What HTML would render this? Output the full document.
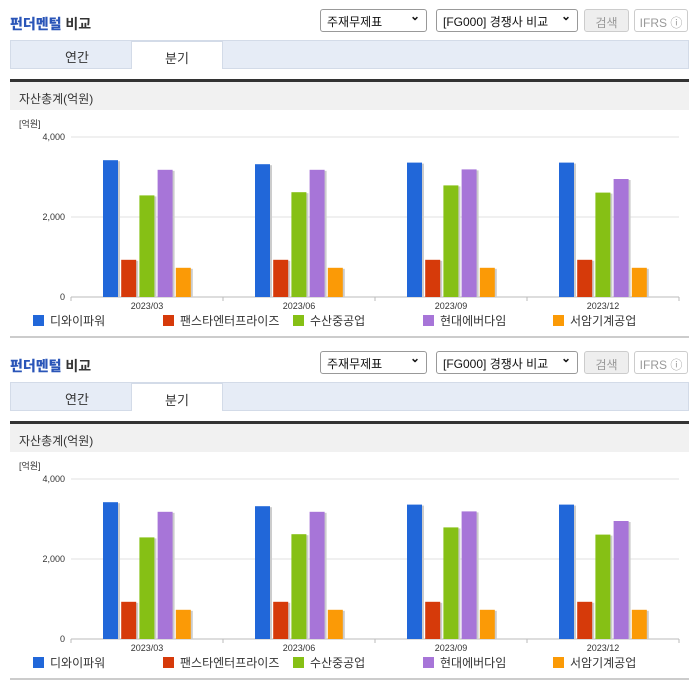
<!DOCTYPE html>
<html><head><meta charset="utf-8"><style>
*{box-sizing:border-box}
body{margin:0;width:696px;height:684px;background:#fff;font-family:"Liberation Sans","Noto Sans CJK KR",sans-serif;overflow:hidden;position:relative}
.panel{position:absolute;left:0;width:696px;height:342px}
.title{position:absolute;left:10px;top:14px;font-size:14px;color:#333;font-weight:bold}
.title b{color:#2a55b8}
.sel{position:absolute;top:9px;height:23px;border:1px solid #999;border-radius:3px;font-size:12px;padding:3px 6px;color:#111;background:#fff}
.sel:after{content:"⌄";position:absolute;right:6px;top:-1px;font-weight:bold}
.btn{position:absolute;top:9px;height:23px;border:1px solid #ccc;border-radius:3px;font-size:12px;color:#999;text-align:center;padding-top:4px}
.tabs{position:absolute;left:10px;top:40px;width:679px;height:29px;background:#e6ecf6;border:1px solid #d3dbe8}
.tab{position:absolute;top:0;height:28px;width:92px;font-size:13px;text-align:center;padding-top:6px;color:#333}
.hdr{position:absolute;left:10px;top:79px;width:679px;height:31px;background:#f1f1f1;border-top:3px solid #333;font-size:12px;color:#333;padding:8px 0 0 9px}
.bot{position:absolute;left:10px;top:336px;width:679px;height:2px;background:#ccc}
</style></head><body>
<script>
const categories=["2023/03","2023/06","2023/09","2023/12"];
const seriesNames=["디와이파워","팬스타엔터프라이즈","수산중공업","현대에버다임","서암기계공업"];
const colors=["#2167d9","#d63a0a","#86c015","#a775d8","#fb9a06"];
const s1=[3420,3320,3360,3360];
const s2=[930,930,930,930];
const s3=[2540,2620,2790,2610];
const s4=[3180,3180,3190,2950];
const s5=[730,730,730,730];
const series=[s1,s2,s3,s4,s5];
const yTicks=[0,2000,4000];
const yLabels=["0","2,000","4,000"];
function panel(top){
 const p=document.createElement('div');p.className='panel';p.style.top=top+'px';
 
 
 const y0=297,ppu=160/4000,xL=71,xR=679,cw=(xR-xL)/4;
 const ys=v=>y0-v*ppu, xc=i=>xL+cw*(i+0.5);
 let svg='<svg width="696" height="342" style="position:absolute;left:0;top:0">';
 svg+='<text x="19" y="127" font-size="9" fill="#333">[억원]</text>';
 yTicks.forEach((t,i)=>{svg+=`<line x1="${xL}" x2="${xR}" y1="${ys(t)}" y2="${ys(t)}" stroke="${t?'#e0e0e0':'#bbb'}"/><text x="${xL-6}" y="${ys(t)+3}" font-size="9" fill="#333" text-anchor="end">${yLabels[i]}</text>`;});
 for(let i=0;i<=4;i++)svg+=`<line x1="${xL+cw*i}" x2="${xL+cw*i}" y1="${y0}" y2="${y0+4}" stroke="#bbb"/>`;
 categories.forEach((c,i)=>{
  svg+=`<text x="${xc(i)}" y="${y0+12}" font-size="9" fill="#333" text-anchor="middle">${c}</text>`;
  series.forEach((s,j)=>{const x=xc(i)-44+j*18.2,y=ys(s[i]);
   svg+=`<rect x="${x+2}" y="${y+1}" width="15" height="${y0-y-1}" fill="#ccc"/><rect x="${x}" y="${y}" width="15" height="${y0-y}" fill="${colors[j]}"/>`;});
 });
 const lx=[33,163,293,423,553];
 seriesNames.forEach((n,j)=>{svg+=`<rect x="${lx[j]}" y="315" width="11" height="11" fill="${colors[j]}"/><text x="${lx[j]+17}" y="325" font-size="12" fill="#333">${n}</text>`;});
 svg+='</svg>';
 p.innerHTML=`<div class="title"><b>펀더멘털</b> 비교</div>
<div class="sel" style="left:320px;width:107px">주재무제표</div>
<div class="sel" style="left:436px;width:142px">[FG000] 경쟁사 비교</div>
<div class="btn" style="left:584px;width:45px;background:#eee">검색</div>
<div class="btn" style="left:634px;width:54px">IFRS ⓘ</div>
<div class="tabs"><div class="tab" style="left:20px">연간</div><div class="tab" style="left:120px;background:#fff;border:1px solid #d3dbe8;border-bottom:none;height:28px">분기</div></div>
<div class="hdr">자산총계(억원)</div>
<div class="bot"></div>`+svg;
 document.body.appendChild(p);
}
panel(0);panel(342);
</script>
</body></html>
